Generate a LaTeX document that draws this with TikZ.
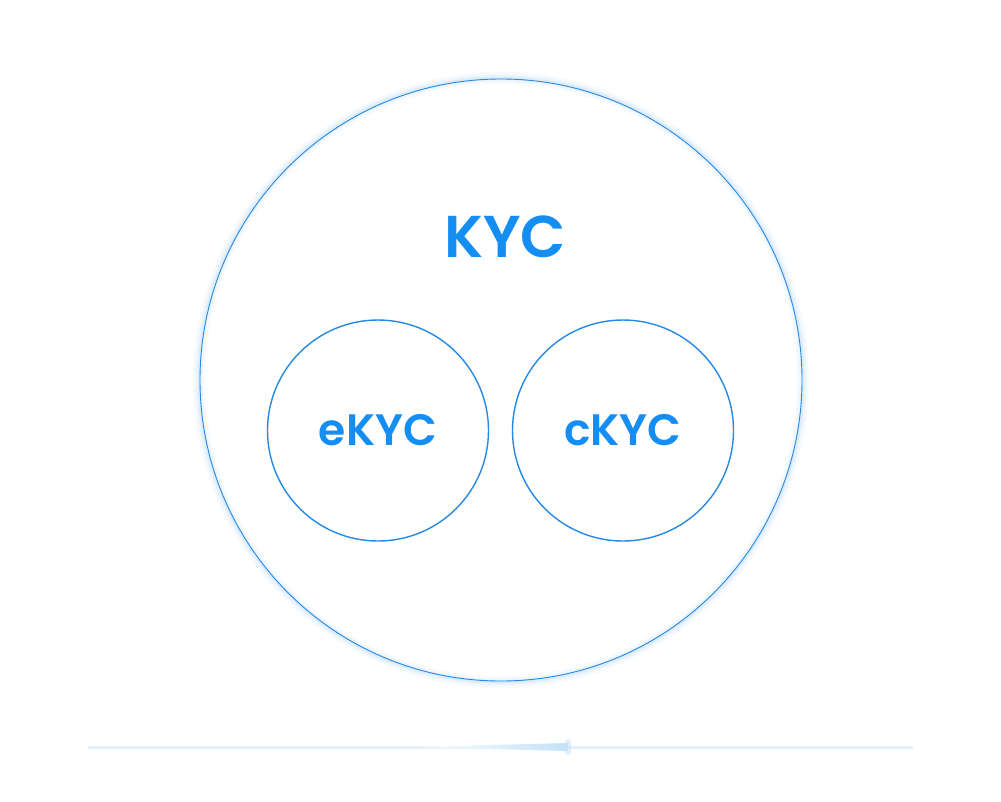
\documentclass[tikz,border=0pt]{standalone}
\usepackage{fontspec}
\setmainfont{Poppins}
\newfontfamily\kycfont{Poppins SemiBold}
\definecolor{kycblue}{HTML}{148EF2}
\definecolor{ringblue}{HTML}{2589E6}
\definecolor{baseblue}{HTML}{E4F0FB}
\definecolor{tailblue}{HTML}{C2E2F8}

\begin{document}
\begin{tikzpicture}[x=1pt, y=-1pt,
    ring/.style={circle, draw=ringblue, inner sep=0pt, text=kycblue, font=\kycfont\fontsize{44}{44}\selectfont},
    tag/.style={inner sep=0pt, text=kycblue, font=\kycfont\fontsize{59}{59}\selectfont}]
    \useasboundingbox[fill=white] (0, 0) rectangle (1001, 801);
    % soft glow round the outer ring
    \foreach \w/\o in {12/0.03, 7/0.05, 3/0.08}
        \draw[ringblue, opacity=\o, line width=\w pt] (501, 380) circle (302);
    \node[ring, line width=0.9pt, minimum size=602pt] (kyc) at (501, 380) {};
    \node[tag] (kyctag) at (505, 237) {KYC};
    \node[ring, line width=1.4pt, minimum size=221pt] (ekyc) at (378, 430.5) {eKYC};
    \node[ring, line width=1.4pt, minimum size=221pt] (ckyc) at (623, 430.5) {cKYC};
    % base line with its light trail
    \coordinate (left) at (88, 747);
    \coordinate (right) at (913, 747);
    \coordinate (tail) at (415, 747);
    \coordinate (head) at (568, 747);
    \draw[baseblue, line width=3pt] (left) -- (right);
    \shade[left color=white, right color=tailblue] (tail) -- ([yshift=-4pt]head) -- ([yshift=4pt]head) -- cycle;
    \fill[tailblue, opacity=0.5] (head) ellipse (3.5 and 8);
\end{tikzpicture}
\end{document}
